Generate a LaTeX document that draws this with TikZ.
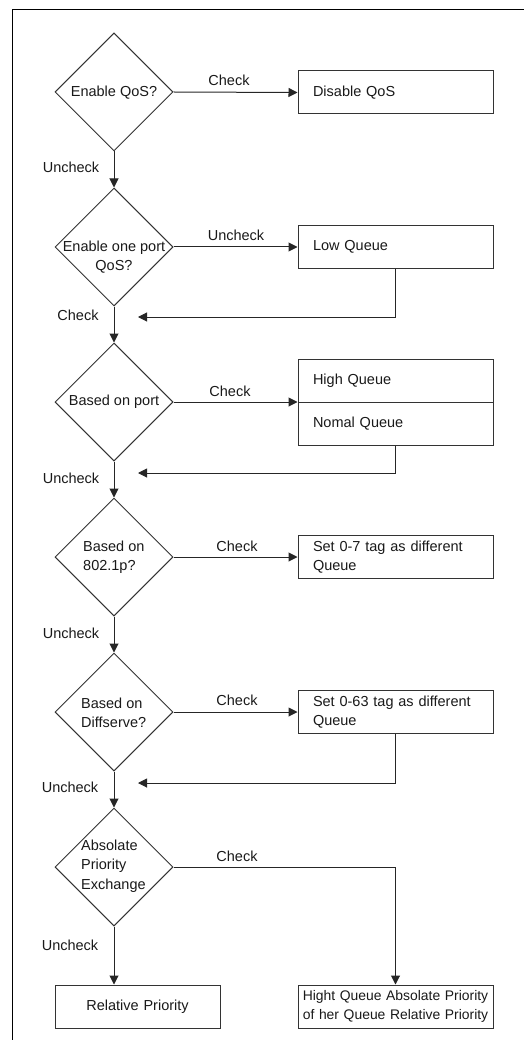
\documentclass[tikz,border=0pt]{standalone}
\usepackage{fontspec}
\setmainfont{Liberation Sans}
\usetikzlibrary{shapes.geometric,arrows.meta}
\begin{document}
\begin{tikzpicture}[x=1pt,y=-1pt,
  conn/.style={draw=black!85, line width=1pt},
  arr/.style={conn, -{Triangle[length=9pt,width=9pt]}},
  dia/.style={draw=black!80, line width=1pt, diamond, aspect=1, minimum width=118pt, minimum height=118pt, inner sep=0pt},
  txt/.style={font=\fontsize{14.5}{19.5}\selectfont, inner sep=0pt, align=center, text=black!90},
  ltxt/.style={txt, align=left, anchor=west},
  qbox/.style={draw=black!80, line width=1pt, minimum width=195pt, minimum height=43pt, inner xsep=15pt, inner ysep=0pt, text width=165pt, align=left, text=black!90, font=\fontsize{14.5}{19.5}\selectfont},
  cbox/.style={qbox, inner xsep=2pt, text width=191pt, align=center},
  frame/.style={draw=black, line width=1pt}
]
\useasboundingbox (0,0) rectangle (524,1040);
\draw[frame] (524,10) -- (12,10) -- (12,1040);

% decisions
\node[dia] (d1) at (114,92) {};
\node[dia] (d2) at (114,247) {};
\node[dia] (d3) at (114,402) {};
\node[dia] (d4) at (114,557) {};
\node[dia] (d5) at (114,712) {};
\node[dia] (d6) at (114,867) {};

\node[txt] (t1) at (114,93) {Enable QoS?};
\node[txt] (t2) at (114,257) {Enable one port\\QoS?};
\node[txt] (t3) at (114,402) {Based on port};
\node[ltxt] (t4) at (83,557) {Based on\\802.1p?};
\node[ltxt] (t5) at (81,713) {Based on\\Diffserve?};
\node[ltxt] (t6) at (81,866) {Absolate\\Priority\\Exchange};

% result boxes
\node[qbox] (disable) at (395.5,92.5) {Disable QoS};
\node[qbox] (low) at (395.5,247) {Low Queue};
\node[qbox] (high) at (395.5,380.5) {High Queue};
\node[qbox] (nomal) at (395.5,423.5) {Nomal Queue};
\node[qbox] (set7) at (395.5,557) {Set 0-7 tag as different\\Queue};
\node[qbox] (set63) at (395.5,712) {Set 0-63 tag as different\\Queue};
\node[cbox, font=\fontsize{13.9}{19.5}\selectfont] (hight) at (395.5,1006.5) {Hight Queue Absolate Priority\\of her Queue Relative Priority};
\node[qbox, minimum width=165pt, text width=161pt, inner xsep=2pt, align=center] (rel) at (137.5,1006.5) {Relative Priority};

% return points
\coordinate (r2) at (138,317);
\coordinate (r3) at (138,473);
\coordinate (r5) at (138,783);

% connectors
\draw[arr] (d1.east) -- (disable.west);
\draw[arr] (d2.east) -- (low.west);
\draw[arr] (d3.east) -- (d3.east -| high.south west);
\draw[arr] (d4.east) -- (set7.west);
\draw[arr] (d5.east) -- (set63.west);
\draw[arr] (d6.east) -| (hight.north);

\draw[arr] (d1.south) -- (d2.north);
\draw[arr] (d2.south) -- (d3.north);
\draw[arr] (d3.south) -- (d4.north);
\draw[arr] (d4.south) -- (d5.north);
\draw[arr] (d5.south) -- (d6.north);
\draw[arr] (d6.south) -- (d6.south |- rel.north);

\draw[arr] (low.south) |- (r2);
\draw[arr] (nomal.south) |- (r3);
\draw[arr] (set63.south) |- (r5);

% labels
\node[txt] (c1) at (229,80) {Check};
\node[txt] (u2) at (236,235) {Uncheck};
\node[txt] (c3) at (230,391) {Check};
\node[txt] (c4) at (237,546) {Check};
\node[txt] (c5) at (237,700) {Check};
\node[txt] (c6) at (237,856) {Check};

\node[txt] (u1) at (71,167) {Uncheck};
\node[txt] (k2) at (78,315) {Check};
\node[txt] (u3) at (71,478) {Uncheck};
\node[txt] (u4) at (71,633) {Uncheck};
\node[txt] (u5) at (70,787) {Uncheck};
\node[txt] (u6) at (70,945) {Uncheck};
\end{tikzpicture}
\end{document}
